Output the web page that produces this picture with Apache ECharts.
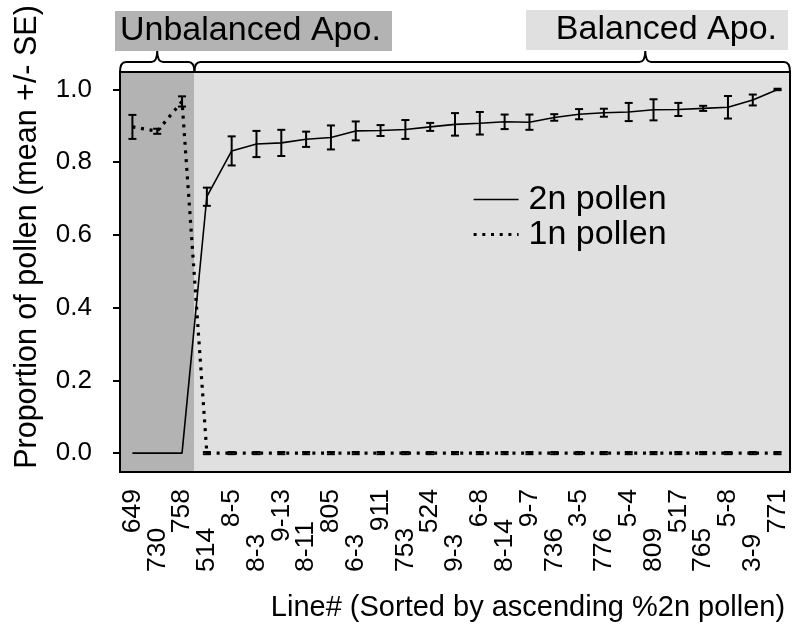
<!DOCTYPE html>
<html>
<head>
<meta charset="utf-8">
<script src="https://cdn.jsdelivr.net/npm/echarts@6/dist/echarts.min.js"></script>
<style>html,body{margin:0;padding:0;background:#fff}#c{width:800px;height:640px}</style>
</head>
<body>
<div id="c"></div>
<script>
// ---- data ----
const categories = ['649','730','758','514','8-5','8-3','9-13','8-11','805','6-3','911','753','524','9-3','6-8','8-14','9-7','736','3-5','776','5-4','809','517','765','5-8','3-9','771'];
const groupNames = ['Unbalanced Apo.', 'Balanced Apo.'];
const groupRanges = [[0, 2], [3, 26]];
const mean2n = [0,0,0,0.705,0.831,0.850,0.853,0.863,0.868,0.886,0.887,0.890,0.897,0.904,0.907,0.911,0.910,0.923,0.932,0.936,0.938,0.944,0.945,0.948,0.951,0.971,1.0];
const se2n   = [0,0,0,0.025,0.040,0.036,0.036,0.021,0.033,0.026,0.015,0.026,0.011,0.031,0.031,0.020,0.021,0.009,0.014,0.011,0.025,0.029,0.018,0.007,0.031,0.015,0.002];
const mean1n = [0.897,0.885,0.967,0,0,0,0,0,0,0,0,0,0,0,0,0,0,0,0,0,0,0,0,0,0,0,0];
const se1n   = [0.033,0.007,0.014,0.003,0.003,0.003,0.003,0.003,0.003,0.003,0.003,0.003,0.003,0.003,0.003,0.003,0.003,0.003,0.003,0.003,0.003,0.003,0.003,0.003,0.003,0.003,0.003];
const yTicks = [0, 0.2, 0.4, 0.6, 0.8, 1.0];

// ---- layout / style ----
const FONT = 'Liberation Sans, Arial, sans-serif';
const GL = 120, GT = 72, GW = 670, GH = 400;
const regionColors = ['#b3b3b3', '#e0e0e0'];
const braceTipFrac = [0.5, 0.757];
const dotted = [3, 5.7];

function bracePath(x0, x1, xt, yb) {
  const yh = yb - 10, yt = yb - 21, r = 6;
  return `M${x0} ${yb} Q${x0} ${yh} ${x0 + r} ${yh} L${xt - r} ${yh} Q${xt} ${yh} ${xt} ${yt} Q${xt} ${yh} ${xt + r} ${yh} L${x1 - r} ${yh} Q${x1} ${yh} ${x1} ${yb}`;
}

function errData(mean, se) { return mean.map((m, i) => [i, m, se[i]]); }
function errRender(params, api) {
  const i = api.value(0), m = api.value(1), s = api.value(2);
  if (s <= 0) return null;
  const t = api.coord([i, m + s]), b = api.coord([i, m - s]);
  const h = 4, st = { stroke: '#000', lineWidth: 2 };
  return { type: 'group', children: [
    { type: 'line', shape: { x1: t[0], y1: t[1], x2: b[0], y2: b[1] }, style: st },
    { type: 'line', shape: { x1: t[0] - h, y1: t[1], x2: t[0] + h, y2: t[1] }, style: st },
    { type: 'line', shape: { x1: b[0] - h, y1: b[1], x2: b[0] + h, y2: b[1] }, style: st }
  ]};
}
function groupSpan(api) {
  const a = api.value(0), b = api.value(1);
  const w = api.size([1, 0])[0];
  const pa = api.coord([a, 0]), pb = api.coord([b, 0]);
  return [pa[0] - w / 2, pb[0] + w / 2];
}

const chart = echarts.init(document.getElementById('c'));
chart.setOption({
  animation: false,
  textStyle: { fontFamily: FONT, color: '#000' },
  grid: { left: GL, top: GT, width: GW, height: GH, show: true, borderColor: '#000', borderWidth: 2, backgroundColor: 'transparent', z: 10 },
  legend: {
    data: [
      { name: '2n pollen', lineStyle: { width: 1.6, type: 'solid' } },
      { name: '1n pollen', lineStyle: { width: 3.2, type: dotted, cap: 'butt' } }
    ],
    orient: 'vertical', left: 467, top: 177,
    itemWidth: 45, itemHeight: 14, itemGap: 0,
    itemStyle: { opacity: 0 },
    textStyle: { fontSize: 34, fontFamily: FONT, color: '#000', lineHeight: 35, padding: [0, 0, 0, 5] }
  },
  xAxis: [{
    type: 'category', data: categories, boundaryGap: true,
    axisLine: { show: false },
    axisTick: { show: true, alignWithLabel: true, interval: 0, length: 9, lineStyle: { color: '#000', width: 2 } },
    axisLabel: { rotate: 90, interval: (i) => i % 2 === 0, margin: 17, fontSize: 26.5, color: '#000', fontFamily: FONT }
  }, {
    type: 'category', data: categories, boundaryGap: true, position: 'bottom', gridIndex: 0,
    axisLine: { show: false }, axisTick: { show: false }, splitLine: { show: false },
    axisLabel: { rotate: 90, interval: (i) => i % 2 === 1, margin: 100, align: 'left', fontSize: 26.5, color: '#000', fontFamily: FONT }
  }],
  yAxis: {
    type: 'value', min: -0.052, max: 1.048,
    axisLine: { show: false }, splitLine: { show: false },
    axisTick: { show: true, length: 7, customValues: yTicks, lineStyle: { color: '#000', width: 2 } },
    axisLabel: { customValues: yTicks, margin: 28, fontSize: 26, color: '#000', fontFamily: FONT, formatter: (v) => v.toFixed(1) }
  },
  series: [
    {
      name: 'regions', type: 'custom', z: 1, silent: true,
      data: groupRanges.map((r, g) => [r[0], r[1], g]),
      renderItem: (params, api) => {
        const g = api.value(2), sp = groupSpan(api), cs = params.coordSys;
        return { type: 'rect', shape: { x: sp[0], y: cs.y, width: sp[1] - sp[0], height: cs.height }, style: { fill: regionColors[g] } };
      }
    },
    {
      name: 'braces', type: 'custom', z: 12, silent: true, clip: false,
      data: groupRanges.map((r, g) => [r[0], r[1], g]),
      renderItem: (params, api) => {
        const g = api.value(2), sp = groupSpan(api), cs = params.coordSys;
        const xt = sp[0] + (sp[1] - sp[0]) * braceTipFrac[g];
        return { type: 'path', shape: { pathData: bracePath(sp[0], sp[1], xt, cs.y) }, style: { fill: 'none', stroke: '#000', lineWidth: 2 } };
      }
    },
    {
      name: '2n pollen', type: 'line', z: 3, data: mean2n, symbol: 'none',
      lineStyle: { color: '#000', width: 1.6, type: 'solid' }, itemStyle: { color: '#000' }
    },
    {
      name: '1n pollen', type: 'line', z: 3, data: mean1n, symbol: 'none',
      lineStyle: { color: '#000', width: 3.2, type: dotted, cap: 'butt' }, itemStyle: { color: '#000' }
    },
    { name: 'err2n', type: 'custom', z: 4, data: errData(mean2n, se2n), renderItem: errRender },
    { name: 'err1n', type: 'custom', z: 4, data: errData(mean1n, se1n), renderItem: errRender }
  ],
  graphic: [
    { type: 'rect', z: 100, shape: { x: 115, y: 11, width: 277, height: 40 }, style: { fill: '#b3b3b3' } },
    { type: 'text', z: 101, x: 120, y: 31, style: { text: groupNames[0], font: '34px ' + FONT, fill: '#000', textAlign: 'left', textVerticalAlign: 'middle' } },
    { type: 'rect', z: 100, shape: { x: 526, y: 10, width: 262, height: 40 }, style: { fill: '#e0e0e0' } },
    { type: 'text', z: 101, x: 777, y: 30, style: { text: groupNames[1], font: '34px ' + FONT, fill: '#000', textAlign: 'right', textVerticalAlign: 'middle' } },
    { type: 'text', z: 101, x: 28, y: 237, rotation: Math.PI / 2, style: { text: 'Proportion of pollen (mean +/- SE)', font: '30.5px ' + FONT, fill: '#000', textAlign: 'center', textVerticalAlign: 'middle' } },
    { type: 'text', z: 101, x: 528, y: 608, style: { text: 'Line# (Sorted by ascending %2n pollen)', font: '29px ' + FONT, fill: '#000', textAlign: 'center', textVerticalAlign: 'middle' } }
  ]
});
</script>
</body>
</html>
